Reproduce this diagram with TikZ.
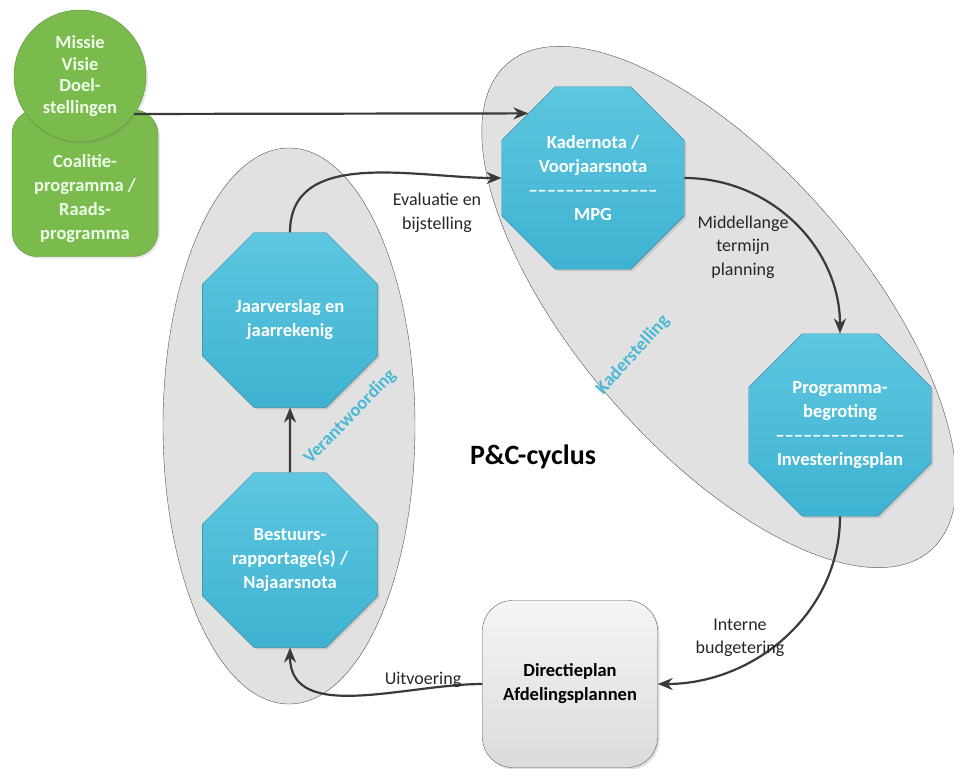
\documentclass[tikz,border=0pt]{standalone}
\usepackage{fontspec}
\setmainfont{Carlito}
\usetikzlibrary{shapes.geometric,arrows.meta,shadows}

\definecolor{octcyan}{HTML}{4BB9D5}
\definecolor{octtop}{HTML}{5EC6E0}
\definecolor{octbot}{HTML}{3EB3D1}
\definecolor{octline}{HTML}{2E8CA4}
\definecolor{zonegray}{HTML}{E1E1E1}
\definecolor{zoneline}{HTML}{555555}
\definecolor{leafgreen}{HTML}{7BBA4C}
\definecolor{leafline}{HTML}{5B8E38}
\definecolor{flowgray}{HTML}{3A3A3A}

\newcommand{\pcbold}{\bfseries\fontsize{18.5}{24}\selectfont}
\newcommand{\pcnormal}{\fontsize{18}{23.5}\selectfont}
\newcommand{\dashrow}{––––––––––––––}
\tikzstyle{zone}=[draw=zoneline,thin,ellipse,fill=zonegray,inner sep=0pt]
\tikzstyle{octagon}=[draw=octline,regular polygon,regular polygon sides=8,minimum size=189pt,inner sep=0pt,
  top color=octtop,bottom color=octbot,text=white,align=center,font=\pcbold,
  drop shadow={opacity=0.25,shadow xshift=2pt,shadow yshift=-2pt}]
\tikzstyle{leaf}=[draw=leafline,fill=leafgreen,text=white!92!green,align=center,font=\pcbold,
  drop shadow={opacity=0.2,shadow xshift=2pt,shadow yshift=-2pt}]
\tikzstyle{plan}=[draw=gray!75!black,rounded corners=30pt,top color=gray!8,bottom color=gray!28,
  minimum width=175pt,minimum height=167pt,align=center,font=\pcbold,
  drop shadow={opacity=0.25,shadow xshift=2pt,shadow yshift=-2pt}]
\tikzstyle{flow}=[draw=flowgray,line width=2.2pt,-{Stealth[length=15pt,width=12pt]}]
\tikzstyle{weight}=[font=\pcnormal,align=center,text=black!85]
\tikzstyle{zonelabel}=[text=octcyan,font=\pcbold]

\begin{document}
\begin{tikzpicture}[x=1pt,y=-1pt]
    \useasboundingbox (0,0) rectangle (954,769);
    % First we draw the two zones
    \node[zone,minimum width=252pt,minimum height=556pt] (vzone) at (289,426) {};
    \node[zone,minimum width=645pt,minimum height=284pt,rotate=-49] (kzone) at (719,307) {};
    \node[zonelabel,rotate=48] (kzonetext) at (633,355) {Kaderstelling};
    \node[zonelabel,rotate=46] (vzonetext) at (350,417) {Verantwoording};
    % Green starting shapes
    \node[leaf,rounded corners=25pt,minimum width=146pt,minimum height=147pt,
      label={[text=white!92!green,font=\pcbold,align=center,yshift=-16pt]center:Coalitie-\\programma /\\Raads-\\programma}]
      (coalitie) at (85,183) {};
    \node[leaf,circle,minimum size=132pt,inner sep=0pt,font=\bfseries\fontsize{18.5}{21.5}\selectfont]
      (missie) at (80,76) {Missie\\Visie\\Doel-\\stellingen};
    % Then the octagons of the cycle
    \foreach \pos/\name/\txt in {{(593,178)/kader/{Kadernota /\\Voorjaarsnota\\\dashrow\\MPG}},
        {(840,425)/prog/{Programma-\\begroting\\\dashrow\\Investeringsplan}},
        {(290,320)/jaar/{Jaarverslag en\\jaarrekenig}},
        {(290,560)/best/{Bestuurs-\\rapportage(s) /\\Najaarsnota}}}
        \node[octagon] (\name) at \pos {\txt};
    \node[plan] (plan) at (570,684) {Directieplan\\Afdelingsplannen};
    \node[font=\bfseries\fontsize{28}{30}\selectfont] (cyclus) at (533,457) {P\&C-cyclus};
    % Connect the shapes
    \path[flow] (missie.-35) -- (kader.135);
    \path[flow] (best.north) -- (jaar.south);
    \foreach \source/\dest/\o/\i in {jaar.north/kader.west/90/180, kader.east/prog.north/0/90,
        prog.south/plan.east/-90/0, plan.west/best.south/180/-90}
        \path[flow] (\source) to[out=\o,in=\i] (\dest);
    % Labels of the connectors
    \node[weight] (evaluatie) at (437,213) {Evaluatie en\\bijstelling};
    \node[weight] (middellang) at (743,247) {Middellange\\termijn\\planning};
    \node[weight] (intern) at (740,638) {Interne\\budgetering};
    \node[weight] (uitvoering) at (423,680) {Uitvoering};
\end{tikzpicture}
\end{document}
